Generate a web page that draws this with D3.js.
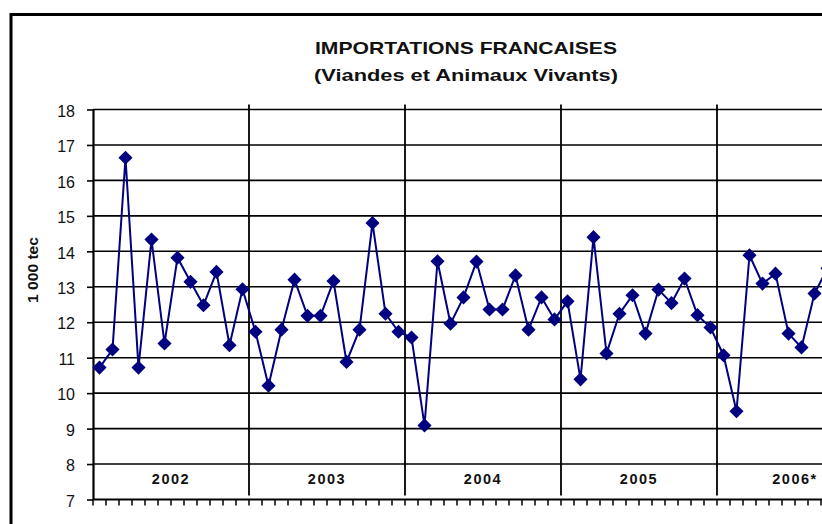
<!DOCTYPE html>
<html>
<head>
<meta charset="utf-8">
<script src="https://cdn.jsdelivr.net/npm/d3@7"></script>
<style>
  body { margin: 0; background: #fff; }
  svg { display: block; font-family: Arial, "Liberation Sans", sans-serif; }
</style>
</head>
<body>
<div id="chart"></div>
<script>
"use strict";

// chart data (1 000 tec, monthly)
var years = ["2002", "2003", "2004", "2005", "2006*"];
var yTicks = [7, 8, 9, 10, 11, 12, 13, 14, 15, 16, 17, 18];
var values2002 = [10.72, 11.23, 16.64, 10.72, 14.33, 11.40, 13.82, 13.14, 12.48, 13.42, 11.35, 12.93];
var values2003 = [11.73, 10.21, 11.79, 13.20, 12.18, 12.18, 13.16, 10.88, 11.79, 14.80, 12.24, 11.73];
var values2004 = [11.57, 9.09, 13.72, 11.96, 12.70, 13.71, 12.36, 12.36, 13.32, 11.79, 12.70, 12.08];
var values2005 = [12.59, 10.39, 14.40, 11.12, 12.24, 12.76, 11.68, 12.92, 12.54, 13.23, 12.20, 11.85];
var values2006 = [11.07, 9.49, 13.89, 13.09, 13.37, 11.68, 11.29, 12.81, 13.52];
var titleLines = ["IMPORTATIONS FRANCAISES", "(Viandes et Animaux Vivants)"];

(function () {
  var width = 822, height = 524;
  var plotLeft = 93, plotTop = 109.5, plotBottom = 499.5;
  var monthsPerYear = 12;

  var series = [values2002, values2003, values2004, values2005, values2006];
  var points = [];
  series.forEach(function (vals, yi) {
    vals.forEach(function (v, m) { points.push({ i: yi * monthsPerYear + m, value: v }); });
  });

  var svg = d3.select("#chart").append("svg")
    .attr("width", width)
    .attr("height", height);

  // scales
  var x = d3.scaleBand()
    .domain(d3.range(years.length * monthsPerYear))
    .range([plotLeft, plotLeft + 13 * years.length * monthsPerYear]);
  var yearX = d3.scaleBand()
    .domain(years)
    .range(x.range());
  var y = d3.scaleLinear().domain([7, 18]).range([plotBottom, plotTop]);

  // outer frame
  svg.append("rect")
    .attr("x", 11).attr("y", 14.5)
    .attr("width", 1000).attr("height", 600)
    .attr("fill", "none").attr("stroke", "#000").attr("stroke-width", 3);

  // title (stretched horizontally like the source picture)
  svg.append("g").selectAll("text")
    .data(titleLines)
    .join("text")
    .attr("x", 466)
    .attr("y", function (d, i) { return 54 + i * 27; })
    .attr("text-anchor", "middle")
    .attr("font-weight", "bold")
    .attr("font-size", 17)
    .attr("textLength", function (d, i) { return i === 0 ? 302 : 304; })
    .attr("lengthAdjust", "spacingAndGlyphs")
    .attr("fill", "#111")
    .text(function (d) { return d; });

  // horizontal gridlines
  svg.append("g").selectAll("line")
    .data(yTicks.slice(1))
    .join("line")
    .attr("x1", plotLeft).attr("x2", width)
    .attr("y1", function (d) { return y(d); })
    .attr("y2", function (d) { return y(d); })
    .attr("stroke", "#000").attr("stroke-width", 1.6);

  // year separators
  svg.append("g").selectAll("line")
    .data(years.slice(1))
    .join("line")
    .attr("x1", function (d) { return yearX(d); })
    .attr("x2", function (d) { return yearX(d); })
    .attr("y1", plotTop - 5).attr("y2", plotBottom - 4)
    .attr("stroke", "#000").attr("stroke-width", 1.8);

  // year labels
  svg.append("g").selectAll("text")
    .data(years)
    .join("text")
    .attr("x", function (d) { return yearX(d) + yearX.bandwidth() / 2; })
    .attr("y", 484)
    .attr("text-anchor", "middle")
    .attr("font-weight", "bold")
    .attr("font-size", 14.5)
    .attr("letter-spacing", 1.5)
    .attr("fill", "#111")
    .text(function (d) { return d; });

  // y axis
  var yAxis = d3.axisLeft(y).tickValues(yTicks).tickSize(6).tickSizeOuter(0);
  var gy = svg.append("g")
    .attr("transform", "translate(" + plotLeft + ",0)")
    .call(yAxis);
  gy.select(".domain").attr("stroke", "#000").attr("stroke-width", 2.2);
  gy.selectAll(".tick line").attr("stroke", "#000").attr("stroke-width", 1.6);
  gy.selectAll(".tick text")
    .attr("x", -18)
    .attr("dy", "0.42em")
    .attr("font-size", 16)
    .attr("font-family", "Arial, 'Liberation Sans', sans-serif")
    .attr("fill", "#111");

  // x axis with month ticks
  var monthEdges = d3.range(years.length * monthsPerYear + 1);
  var gx = svg.append("g");
  gx.append("line")
    .attr("x1", plotLeft).attr("x2", width)
    .attr("y1", plotBottom).attr("y2", plotBottom)
    .attr("stroke", "#000").attr("stroke-width", 2.2);
  gx.selectAll(".mtick")
    .data(monthEdges)
    .join("line")
    .attr("class", "mtick")
    .attr("x1", function (d) { return plotLeft + d * x.step(); })
    .attr("x2", function (d) { return plotLeft + d * x.step(); })
    .attr("y1", plotBottom).attr("y2", plotBottom + 6)
    .attr("stroke", "#000").attr("stroke-width", 1.5);

  // y axis title
  svg.append("text")
    .attr("transform", "translate(38,270) rotate(-90)")
    .attr("text-anchor", "middle")
    .attr("font-weight", "bold")
    .attr("font-size", 14.5)
    .attr("textLength", 66)
    .attr("lengthAdjust", "spacingAndGlyphs")
    .attr("fill", "#111")
    .text("1 000 tec");

  // series line
  var line = d3.line()
    .x(function (d) { return x(d.i) + x.bandwidth() / 2; })
    .y(function (d) { return y(d.value); });

  svg.append("path")
    .datum(points)
    .attr("d", line)
    .attr("fill", "none")
    .attr("stroke", "#000080")
    .attr("stroke-width", 2);

  // diamond markers
  var diamond = d3.symbol().type(d3.symbolSquare).size(100);
  svg.append("g").selectAll("path")
    .data(points)
    .join("path")
    .attr("d", diamond)
    .attr("transform", function (d) {
      return "translate(" + (x(d.i) + x.bandwidth() / 2) + "," + y(d.value) + ") rotate(45)";
    })
    .attr("fill", "#000080");
})();
</script>
</body>
</html>
